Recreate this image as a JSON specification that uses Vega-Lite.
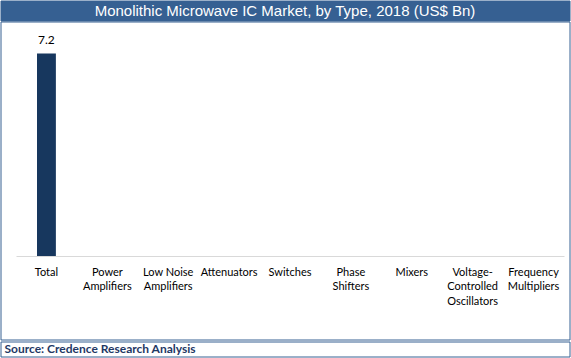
{
  "$schema": "https://vega.github.io/schema/vega-lite/v6.json",
  "padding": {"left": -0.5, "top": -0.5, "right": 0, "bottom": 0},
  "autosize": {"type": "pad"},
  "background": "white",
  "config": {"view": {"stroke": "#366092", "strokeWidth": 1}},
  "datasets": {
    "market": [
      {"type": "Total", "value": 7.2},
      {"type": "Power Amplifiers", "value": null},
      {"type": "Low Noise Amplifiers", "value": null},
      {"type": "Attenuators", "value": null},
      {"type": "Switches", "value": null},
      {"type": "Phase Shifters", "value": null},
      {"type": "Mixers", "value": null},
      {"type": "Voltage-Controlled Oscillators", "value": null},
      {"type": "Frequency Multipliers", "value": null}
    ]
  },
  "spacing": -1,
  "vconcat": [
    {
      "width": 569,
      "height": 20,
      "view": {"fill": "#366092", "stroke": "#366092"},
      "data": {"values": [{"title": "Monolithic Microwave IC Market, by Type, 2018 (US$ Bn)"}]},
      "mark": {"type": "text", "color": "white", "font": "Liberation Sans", "fontSize": 15},
      "encoding": {"text": {"field": "title"}}
    },
    {
      "spacing": 0,
      "vconcat": [
        {
          "width": 569,
          "height": 318,
          "view": {"fill": "white", "stroke": "#366092"},
          "data": {"name": "market"},
          "encoding": {
            "x": {
              "field": "type",
              "type": "nominal",
              "sort": null,
              "scale": {
                "domain": ["Total", "Power Amplifiers", "Low Noise Amplifiers", "Attenuators", "Switches", "Phase Shifters", "Mixers", "Voltage-Controlled Oscillators", "Frequency Multipliers"],
                "range": [15.5, 563.5],
                "paddingInner": 0.69,
                "paddingOuter": 0.345
              },
              "axis": {
                "title": null,
                "labelAngle": 0,
                "domainColor": "#d9d9d9",
                "ticks": false,
                "grid": false,
                "labelFont": "Lato",
                "labelFontSize": 11,
                "labelColor": "black",
                "labelPadding": 10,
                "labelLineHeight": 14.5,
                "labelOverlap": false,
                "labelLimit": 0,
                "offset": -83.5,
                "labelExpr": "datum.value == 'Low Noise Amplifiers' ? ['Low Noise', 'Amplifiers'] : datum.value == 'Voltage-Controlled Oscillators' ? ['Voltage-', 'Controlled', 'Oscillators'] : split(datum.value, ' ')"
              }
            },
            "y": {
              "field": "value",
              "type": "quantitative",
              "scale": {"domain": [0, 8], "range": [234.5, 9.5]},
              "axis": null
            }
          },
          "layer": [
            {"mark": {"type": "bar", "color": "#17375E"}},
            {
              "transform": [{"filter": "isValid(datum.value)"}],
              "mark": {"type": "text", "baseline": "alphabetic", "dy": -10, "font": "Lato", "fontSize": 12, "color": "black"},
              "encoding": {"text": {"field": "value", "type": "quantitative", "format": ".1f"}}
            }
          ]
        },
        {
          "width": 569,
          "height": 15,
          "view": {"fill": "white", "stroke": "#366092"},
          "data": {"values": [{"source": "Source: Credence Research Analysis"}]},
          "mark": {"type": "text", "align": "left", "dx": 4, "font": "Lato", "fontWeight": "bold", "fontSize": 12, "color": "#1F3864"},
          "encoding": {
            "x": {"datum": 0, "type": "quantitative", "scale": {"domain": [0, 1]}, "axis": null},
            "text": {"field": "source"}
          }
        }
      ]
    }
  ]
}
